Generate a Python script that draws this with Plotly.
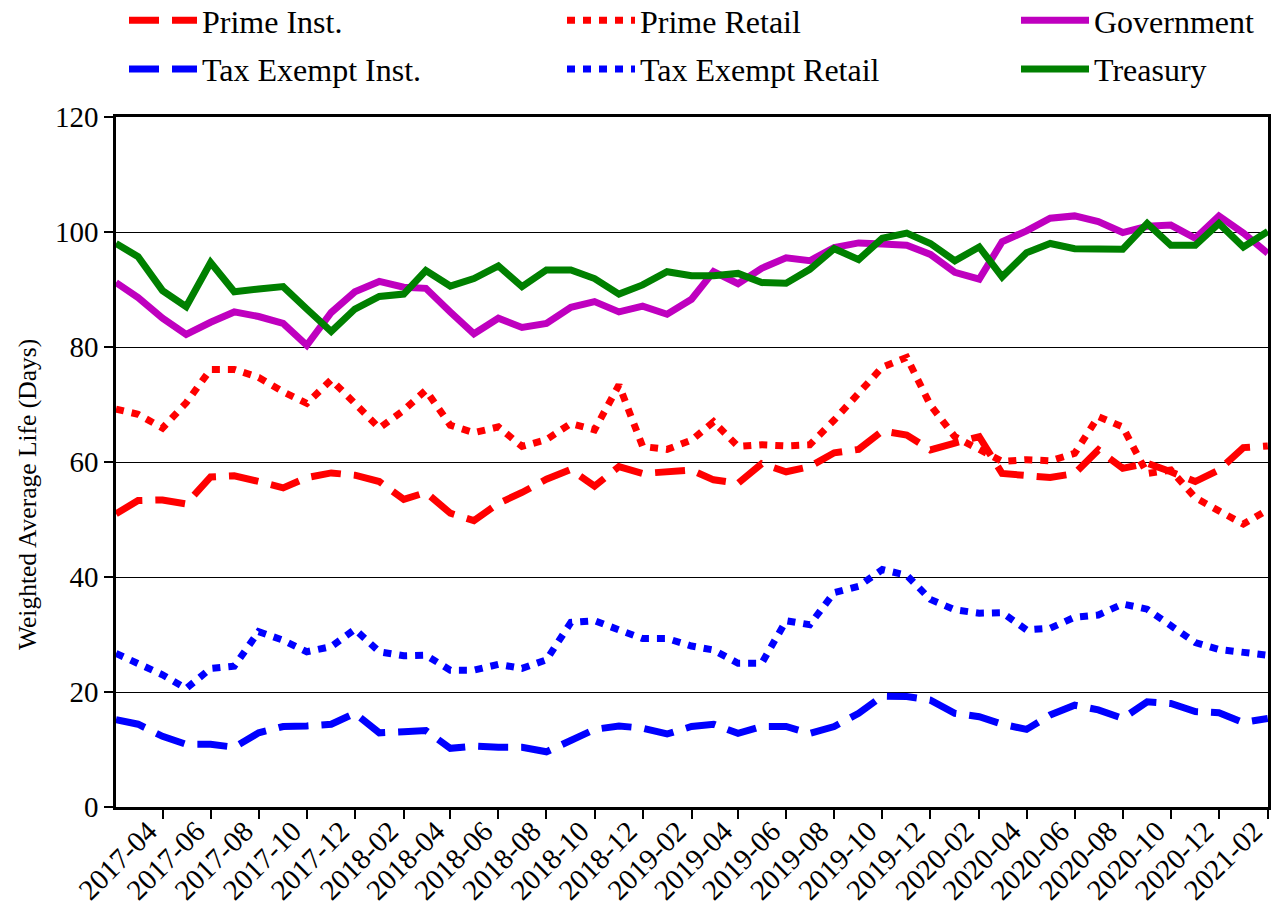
import pandas as pd
import plotly.graph_objects as go

months = pd.date_range("2017-02-01", "2021-02-01", freq="MS")

tick_labels = ["2017-04", "2017-06", "2017-08", "2017-10", "2017-12",
               "2018-02", "2018-04", "2018-06", "2018-08", "2018-10", "2018-12",
               "2019-02", "2019-04", "2019-06", "2019-08", "2019-10", "2019-12",
               "2020-02", "2020-04", "2020-06", "2020-08", "2020-10", "2020-12",
               "2021-02"]

prime_inst = [51.0, 53.3, 53.4, 52.7, 57.4, 57.6, 56.6, 55.5, 57.3, 58.1,
              57.7, 56.6, 53.5, 54.7, 51.1, 49.8, 52.8, 54.7, 57.0, 58.7,
              55.8, 59.2, 58.0, 58.3, 58.6, 56.9, 56.3, 59.7, 58.3, 59.2,
              61.6, 62.2, 65.4, 64.7, 62.1, 63.3, 64.4, 58.0, 57.7, 57.3,
              58.0, 62.1, 58.9, 59.8, 58.3, 56.6, 58.6, 62.5, 62.8]
prime_retail = [69.2, 68.3, 65.9, 70.3, 76.1, 76.1, 74.7, 72.2, 70.2, 74.3,
                70.2, 65.9, 69.0, 72.5, 66.4, 65.1, 66.1, 62.7, 63.9, 66.7,
                65.6, 73.4, 62.7, 62.2, 63.8, 67.0, 62.7, 63.0, 62.8, 63.0,
                67.3, 72.2, 76.5, 78.2, 69.9, 64.4, 62.1, 60.1, 60.4, 60.2,
                61.5, 67.9, 66.1, 58.0, 58.6, 53.8, 51.5, 49.2, 51.7]
government = [91.2, 88.6, 85.0, 82.2, 84.3, 86.1, 85.3, 84.1, 80.3, 86.0,
              89.6, 91.4, 90.4, 90.2, 86.1, 82.3, 85.0, 83.4, 84.1, 86.9,
              87.9, 86.1, 87.1, 85.7, 88.3, 93.1, 91.0, 93.7, 95.5, 95.0,
              97.3, 98.1, 97.9, 97.7, 96.1, 93.0, 91.8, 98.3, 100.2, 102.4,
              102.8, 101.8, 99.9, 101.0, 101.2, 98.9, 102.8, 99.8, 96.3]
treasury = [98.0, 95.7, 89.8, 87.0, 94.7, 89.6, 90.1, 90.5, 86.6, 82.7,
            86.6, 88.8, 89.2, 93.3, 90.6, 91.9, 94.1, 90.5, 93.4, 93.4,
            91.9, 89.2, 90.8, 93.1, 92.4, 92.4, 92.8, 91.2, 91.1, 93.5,
            97.1, 95.2, 98.9, 99.8, 98.0, 95.0, 97.4, 92.2, 96.4, 98.0,
            97.1, 97.0, 97.0, 101.5, 97.7, 97.7, 101.5, 97.4, 100.1]
tax_exempt_inst = [15.2, 14.4, 12.3, 10.9, 10.9, 10.4, 12.9, 14.0, 14.1, 14.4,
                   16.3, 12.9, 13.1, 13.3, 10.2, 10.6, 10.4, 10.4, 9.6, 11.7,
                   13.5, 14.1, 13.7, 12.7, 14.0, 14.4, 12.8, 14.0, 14.0, 12.8,
                   14.0, 16.3, 19.3, 19.2, 18.6, 16.3, 15.7, 14.4, 13.5, 16.0,
                   17.7, 16.9, 15.4, 18.3, 18.0, 16.6, 16.4, 14.7, 15.4]
tax_exempt_retail = [26.7, 25.0, 23.0, 20.6, 24.1, 24.5, 30.5, 29.0, 27.0, 27.9,
                     30.9, 27.0, 26.3, 26.4, 23.8, 23.8, 24.8, 24.1, 25.6, 32.1,
                     32.4, 30.8, 29.3, 29.3, 28.0, 27.3, 25.0, 25.0, 32.4, 31.7,
                     37.3, 38.4, 41.3, 40.3, 36.1, 34.3, 33.7, 33.8, 30.8, 31.1,
                     33.0, 33.4, 35.3, 34.4, 31.4, 28.6, 27.4, 26.8, 26.4]

FONT = "Liberation Serif"
DASH = "30px,13px"
DOT = "8px,8px"
LW = 7

series = [
    ("Prime Inst.", prime_inst, "#ff0000", DASH, "legend"),
    ("Tax Exempt Inst.", tax_exempt_inst, "#0000ff", DASH, "legend"),
    ("Prime Retail", prime_retail, "#ff0000", DOT, "legend2"),
    ("Tax Exempt Retail", tax_exempt_retail, "#0000ff", DOT, "legend2"),
    ("Government", government, "#bf00bf", "solid", "legend3"),
    ("Treasury", treasury, "#008000", "solid", "legend3"),
]

fig = go.Figure()
for name, vals, color, dash, leg in series:
    fig.add_trace(go.Scatter(
        x=months, y=vals, mode="lines", name=name,
        line=dict(color=color, width=LW, dash=dash),
        legend=leg, legendgroup=name,
    ))

PLOT_L, PLOT_W, PLOT_T, PLOT_H = 116, 1152, 117, 690

def px_x(px):
    return (px - PLOT_L) / PLOT_W

leg_common = dict(
    xref="paper", yref="paper", xanchor="left", yanchor="top",
    orientation="v", font=dict(family=FONT, size=32, color="black"),
    bgcolor="rgba(0,0,0,0)", itemwidth=68, tracegroupgap=4,
)
top_y = 1 + (PLOT_T + 7) / PLOT_H
fig.update_layout(
    width=1272, height=914,
    margin=dict(l=PLOT_L, r=4, t=PLOT_T, b=107, autoexpand=False),
    paper_bgcolor="white", plot_bgcolor="white",
    font=dict(family=FONT, size=29, color="black"),
    legend=dict(x=px_x(124), y=top_y, **leg_common),
    legend2=dict(x=px_x(562), y=top_y, **leg_common),
    legend3=dict(x=px_x(1016), y=top_y, **leg_common),
    annotations=[dict(
        text="Weighted Average Life (Days)", textangle=-90,
        xref="paper", yref="paper", x=px_x(28), y=(807 - 495) / PLOT_H,
        xanchor="center", yanchor="middle", showarrow=False,
        font=dict(family=FONT, size=25.5, color="black"),
    )],
)

fig.update_xaxes(
    type="date",
    range=[months[0], months[-1] + pd.Timedelta(hours=6)],
    tickmode="array",
    tickvals=[pd.Timestamp(t + "-01") for t in tick_labels],
    ticktext=tick_labels,
    tickangle=-45,
    ticks="outside", ticklen=9, tickwidth=2, tickcolor="black",
    ticklabelstandoff=-16, ticklabelshift=-14,
    showline=True, linewidth=2.5, linecolor="black", mirror=True,
    showgrid=False, zeroline=False,
    tickfont=dict(family=FONT, size=29, color="black"),
    automargin=False,
)
fig.update_yaxes(
    range=[0, 120], dtick=20, tick0=0,
    ticks="outside", ticklen=9, tickwidth=2, tickcolor="black",
    showline=True, linewidth=2.5, linecolor="black", mirror=True,
    showgrid=True, gridcolor="black", gridwidth=1,
    zeroline=False,
    tickfont=dict(family=FONT, size=29, color="black"),
    automargin=False,
)

fig.write_html("out.html", config={"displayModeBar": False},
               post_script="document.body.style.margin='0px';")
